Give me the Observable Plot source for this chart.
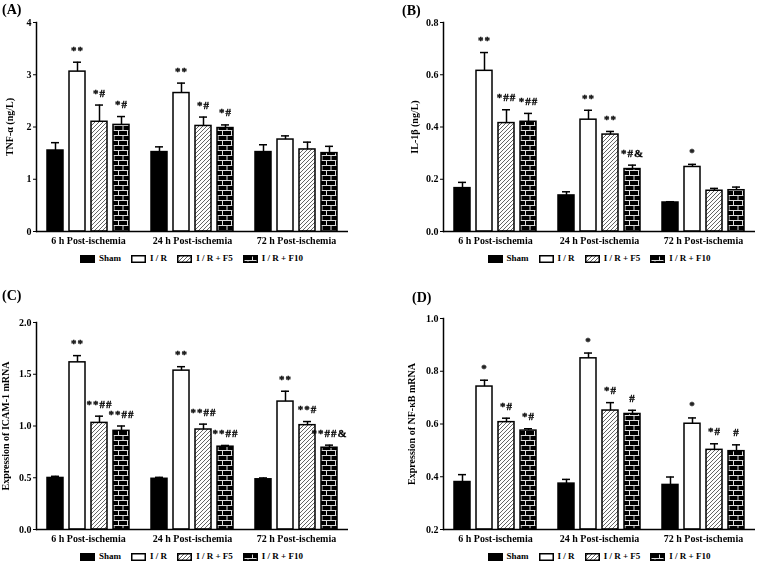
<!DOCTYPE html>
<html>
<head>
<meta charset="utf-8">
<script src="https://cdn.jsdelivr.net/npm/d3@7"></script>
<script src="https://cdn.jsdelivr.net/npm/@observablehq/plot@0.6"></script>
<style>
  body { margin: 0; background: white; }
  #root { position: relative; width: 761px; height: 561px; background: white; overflow: hidden;
          font-family: "Liberation Serif", "Times New Roman", serif; font-weight: bold; color: black; }
  .panel { position: absolute; }
  .panel > svg { will-change: transform; }
  .letter { position: absolute; font-size: 14px; font-weight: bold; line-height: 1; }
  .legend { position: absolute; display: flex; justify-content: center; align-items: center; gap: 10px;
            font-size: 9px; font-weight: bold; line-height: 1; }
  .legend .item { display: flex; align-items: center; gap: 4px; white-space: nowrap; }
  .legend svg { display: block; }
  .sig text { letter-spacing: 1px; font-family: "Liberation Serif"; }
</style>
</head>
<body>
<svg width="0" height="0" style="position:absolute">
  <defs>
    <pattern id="hatch" patternUnits="userSpaceOnUse" width="4" height="4">
      <rect width="4" height="4" fill="white"/>
      <path d="M-1,1 l2,-2 M0,4 l4,-4 M3,5 l2,-2" stroke="#666" stroke-width="1"/>
    </pattern>
    <pattern id="brick" patternUnits="userSpaceOnUse" width="9" height="10">
      <rect width="9" height="10" fill="black"/>
      <path d="M0,0.5 H9 M0,5.5 H9 M0.5,0 V5 M5,5 V10" stroke="#ddd" stroke-width="1"/>
    </pattern>
  </defs>
</svg>
<div id="root"></div>
<script>
const groups = ["6 h Post-ischemia", "24 h Post-ischemia", "72 h Post-ischemia"];
const treatments = ["Sham", "I / R", "I / R + F5", "I / R + F10"];
const fills = ["black", "white", "url(#hatch)", "url(#brick)"];

// (A) TNF-α (ng/L)
const tnfMean = [[1.55, 3.06, 2.10, 2.04], [1.52, 2.65, 2.02, 1.98], [1.52, 1.76, 1.57, 1.50]];
const tnfSem  = [[0.15, 0.18, 0.32, 0.16], [0.10, 0.19, 0.17, 0.06], [0.14, 0.07, 0.14, 0.13]];
const tnfSig  = [["", "**", "*#", "*#"], ["", "**", "*#", "*#"], ["", "", "", ""]];
const tnfTicks = [0, 1, 2, 3, 4];

// (B) IL-1β (ng/L)
const ilMean = [[0.166, 0.615, 0.415, 0.420], [0.138, 0.428, 0.371, 0.239], [0.111, 0.247, 0.156, 0.158]];
const ilSem  = [[0.022, 0.070, 0.051, 0.032], [0.014, 0.036, 0.012, 0.015], [0.003, 0.010, 0.009, 0.012]];
const ilSig  = [["", "**", "*##", "*##"], ["", "**", "**", "*#&"], ["", "*", "", ""]];
const ilTicks = [0, 0.2, 0.4, 0.6, 0.8];

// (C) ICAM-1 mRNA
const icamMean = [[0.498, 1.615, 1.030, 0.953], [0.490, 1.535, 0.966, 0.800], [0.485, 1.236, 1.008, 0.790]];
const icamSem  = [[0.016, 0.065, 0.065, 0.047], [0.014, 0.038, 0.052, 0.012], [0.013, 0.100, 0.035, 0.025]];
const icamSig  = [["", "**", "**##", "**##"], ["", "**", "**##", "**##"], ["", "**", "**#", "**##&"]];
const icamTicks = [0, 0.5, 1.0, 1.5, 2.0];

// (D) NF-κB mRNA
const nfMean = [[0.380, 0.742, 0.607, 0.575], [0.374, 0.849, 0.651, 0.638], [0.369, 0.601, 0.502, 0.497]];
const nfSem  = [[0.028, 0.024, 0.015, 0.007], [0.016, 0.020, 0.030, 0.014], [0.030, 0.022, 0.023, 0.024]];
const nfSig  = [["", "*", "*#", "*#"], ["", "*", "*#", "#"], ["", "*", "*#", "#"]];
const nfTicks = [0.2, 0.4, 0.6, 0.8, 1.0];

const root = document.getElementById("root");
const FONT = "'Liberation Serif', 'Times New Roman', serif";

function table(mean, sem, sig) {
  return groups.flatMap((g, i) => treatments.map((t, j) => ({
    group: g, treatment: t, v: mean[i][j], e: sem[i][j], sig: sig[i][j]
  })));
}

function panel(cfg) {
  const data = table(cfg.mean, cfg.sem, cfg.sig);
  const base = cfg.ticks[0];
  const div = document.createElement("div");
  div.className = "panel";
  div.style.left = cfg.left + "px";
  div.style.top = cfg.top + "px";
  div.style.width = cfg.width + "px";
  div.style.height = cfg.boxHeight + "px";

  const chart = Plot.plot({
    width: cfg.width,
    height: cfg.height,
    marginLeft: cfg.marginLeft,
    marginRight: cfg.marginRight,
    marginTop: cfg.marginTop,
    marginBottom: cfg.marginBottom,
    style: {fontFamily: FONT, fontSize: "10px", fontWeight: "bold", color: "black", background: "transparent", overflow: "visible"},
    fx: {domain: groups, padding: 0, label: null, tickSize: 0, tickPadding: 5, axis: "bottom"},
    x: {domain: treatments, axis: null, paddingInner: 0.28, paddingOuter: 0.48},
    y: {domain: [cfg.ticks[0], cfg.ticks[cfg.ticks.length - 1]], ticks: cfg.ticks, tickFormat: cfg.format,
        tickSize: 3, tickPadding: 2, label: cfg.label, labelAnchor: "center", labelArrow: "none", labelOffset: cfg.labelOffset},
    color: {domain: treatments, range: fills},
    marks: [
      Plot.barY(data, {fx: "group", x: "treatment", y1: () => base, y2: "v", fill: "treatment", stroke: "black", strokeWidth: 1.5}),
      Plot.ruleX(data, {fx: "group", x: "treatment", y1: "v", y2: d => d.v + d.e, stroke: "black", strokeWidth: 1.5}),
      Plot.tickY(data, {fx: "group", x: "treatment", y: d => d.v + d.e, stroke: "black", strokeWidth: 1.5, insetLeft: 4, insetRight: 4}),
      Plot.text(data.filter(d => d.sig), {fx: "group", x: "treatment", y: d => d.v + d.e, text: "sig", dy: -12,
        fontSize: 11, fontWeight: "bold", fill: "black", stroke: "black", strokeWidth: 0.3, className: "sig"}),
      Plot.ruleY([base], {stroke: "black", strokeWidth: 1.5}),
      Plot.frame({anchor: "left", facetAnchor: "left", stroke: "black", strokeWidth: 1.5})
    ]
  });
  chart.style.position = "absolute";
  chart.style.left = "0px";
  chart.style.top = "0px";
  div.appendChild(chart);

  const letter = document.createElement("div");
  letter.className = "letter";
  letter.textContent = cfg.letter;
  letter.style.left = cfg.letterX + "px";
  letter.style.top = cfg.letterY + "px";
  div.appendChild(letter);

  const legend = document.createElement("div");
  legend.className = "legend";
  legend.style.left = cfg.marginLeft + "px";
  legend.style.width = (cfg.width - cfg.marginLeft - cfg.marginRight) + "px";
  legend.style.top = cfg.legendY + "px";
  treatments.forEach((t, j) => {
    const item = document.createElement("div");
    item.className = "item";
    item.innerHTML = `<svg width="15" height="8"><rect x="0.75" y="0.75" width="13.5" height="6.5" fill="${fills[j]}" stroke="black" stroke-width="1.5"/></svg><span>${t}</span>`;
    legend.appendChild(item);
  });
  div.appendChild(legend);
  root.appendChild(div);
}

const f1 = d3.format(".1f");

panel({letter: "(A)", left: 0, top: 0, width: 380, height: 250, boxHeight: 280,
  marginLeft: 35, marginRight: 32, marginTop: 22, marginBottom: 19,
  ticks: tnfTicks, format: d3.format("d"), label: "TNF-α (ng/L)", labelOffset: 31,
  mean: tnfMean, sem: tnfSem, sig: tnfSig, letterX: 2, letterY: 3, legendY: 254});

panel({letter: "(B)", left: 380, top: 0, width: 381, height: 250, boxHeight: 280,
  marginLeft: 62, marginRight: 5, marginTop: 22, marginBottom: 19,
  ticks: ilTicks, format: f1, label: "IL-1β (ng/L)", labelOffset: 33,
  mean: ilMean, sem: ilSem, sig: ilSig, letterX: 22, letterY: 4, legendY: 254});

panel({letter: "(C)", left: 0, top: 280, width: 380, height: 268, boxHeight: 281,
  marginLeft: 35, marginRight: 32, marginTop: 42, marginBottom: 19,
  ticks: icamTicks, format: f1, label: "Expression of ICAM-1 mRNA", labelOffset: 35,
  mean: icamMean, sem: icamSem, sig: icamSig, letterX: 2, letterY: 9, legendY: 272});

panel({letter: "(D)", left: 380, top: 280, width: 381, height: 268, boxHeight: 281,
  marginLeft: 62, marginRight: 5, marginTop: 38, marginBottom: 19,
  ticks: nfTicks, format: f1, label: "Expression of NF-κB mRNA", labelOffset: 36,
  mean: nfMean, sem: nfSem, sig: nfSig, letterX: 32, letterY: 11, legendY: 272});
</script>
</body>
</html>
